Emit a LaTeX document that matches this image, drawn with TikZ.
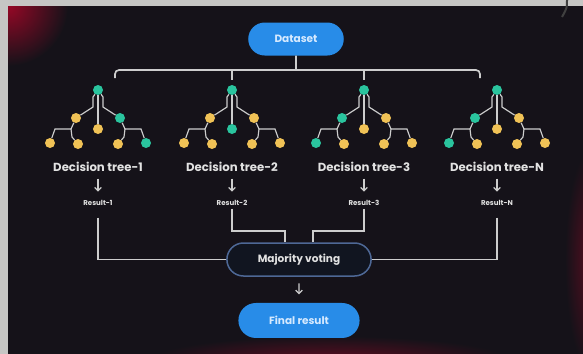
\documentclass[tikz,border=0pt]{standalone}
\usepackage{fontspec}
\setmainfont{Poppins}
\usepackage{tikz}
\usetikzlibrary{shapes.misc, arrows.meta, positioning, calc}
\definecolor{cStone}{RGB}{198,198,196}
\definecolor{cPanel}{RGB}{21,18,25}
\definecolor{cGlow}{RGB}{150,8,38}
\definecolor{cBlue}{RGB}{40,140,232}
\definecolor{cPillText}{RGB}{214,234,255}
\definecolor{cVoteFill}{RGB}{17,21,32}
\definecolor{cVoteEdge}{RGB}{78,104,150}
\definecolor{cLink}{RGB}{205,205,205}
\definecolor{cLabel}{RGB}{226,226,226}
\definecolor{cNodeG}{RGB}{42,196,158}
\definecolor{cNodeY}{RGB}{240,194,86}
\tikzset{
	pill/.style    ={rounded rectangle, minimum height=9.9mm, align=center, fill=cBlue, text=cPillText, font=\bfseries\fontsize{9}{11}\selectfont},
	voter/.style   ={pill, fill=cVoteFill, draw=cVoteEdge, line width=0.45mm, text=cLabel},
	treelbl/.style ={inner sep=0pt, text=cLabel, font=\bfseries\fontsize{10}{12}\selectfont},
	reslbl/.style  ={inner sep=0pt, text=cLabel, font=\bfseries\fontsize{6}{7}\selectfont},
	dot/.style     ={circle, minimum size=3mm, inner sep=0pt},
	trace/.style   ={cLink, line width=0.35mm},
	link/.style    ={cLink, line width=0.5mm},
	arr/.style     ={-{Straight Barb[length=1mm, width=2mm]}, cLink, line width=0.4mm, shorten <=2mm, shorten >=2.5mm},
	glow/.style    ={inner color=#1, outer color=cPanel},
	% small decision tree, node colours given as G/Y letters (root, level 2, leaves)
	pics/dtree/.style args={#1#2#3#4#5#6#7#8}{code={
		\node[dot, fill=cNode#1] (-r) at (0,0) {};
		\node[dot, fill=cNode#2] (-a) at (-22,28) {};
		\node[dot, fill=cNode#3] (-b) at (0,39) {};
		\node[dot, fill=cNode#4] (-c) at (22,28) {};
		\node[dot, fill=cNode#5] (-d) at (-48,53) {};
		\node[dot, fill=cNode#6] (-e) at (-20,54) {};
		\node[dot, fill=cNode#7] (-f) at (20,54) {};
		\node[dot, fill=cNode#8] (-g) at (48,53) {};
		\draw[trace] (-r) -- (-b);
		\draw[trace] (-r) -- (-5,7) -- (-5,17) -- (-a);
		\draw[trace] (-r) -- (5,7) -- (5,17) -- (-c);
		\draw[trace] (-a) -- (-27,39) -- (-43,39) -- (-d);
		\draw[trace] (-27,39) -- (-26,47) -- (-e);
		\draw[trace] (-c) -- (27,39) -- (43,39) -- (-g);
		\draw[trace] (27,39) -- (26,47) -- (-f);
	}},
}

\begin{document}
\begin{tikzpicture}[x=0.3mm, y=-0.3mm]
	\useasboundingbox (0,0) rectangle (583,353);
	% dark panel with the stone edge along top and left
	\fill[cPanel] (-5,-5) rectangle (590,360);
	\begin{scope}
		\clip (8,6) rectangle (590,360);
		\shade[glow=cGlow] (8,6) circle[radius=60];
		\shade[glow=cGlow!55!cPanel] (330,360) ellipse[x radius=180, y radius=24];
		\shade[glow=cGlow!50!cPanel] (590,260) ellipse[x radius=25, y radius=110];
	\end{scope}
	\fill[cStone] (-5,-5) rectangle (590,6);
	\fill[cStone] (-5,-5) rectangle (8,360);
	\draw[black!75, line width=0.6mm] (567,0) .. controls (567,8) .. (562,17);

	\node[pill, minimum width=31mm] (data) at (296,39) {Dataset};
	\coordinate (bus) at (296,70);

	\pic (t1) at (98,90) {dtree=GYYGYYYG};
	\pic (t2) at (232,90) {dtree=GYGYYYYY};
	\pic (t3) at (364,90) {dtree=GGYYGYYY};
	\pic (tN) at (497,90) {dtree=GGYYGYYY};

	\node[treelbl] (l1) at (98,167) {Decision tree-1};
	\node[treelbl] (l2) at (232,167) {Decision tree-2};
	\node[treelbl] (l3) at (364,167) {Decision tree-3};
	\node[treelbl] (lN) at (497,167) {Decision tree-N};
	\node[reslbl, below=8.4mm of l1] (r1) {Result-1};
	\node[reslbl, below=8.4mm of l2] (r2) {Result-2};
	\node[reslbl, below=8.4mm of l3] (r3) {Result-3};
	\node[reslbl, below=8.4mm of lN] (rN) {Result-N};

	\node[voter, minimum width=45.6mm] (vote) at (299,259.5) {Majority voting};
	\node[pill, minimum width=38.7mm, minimum height=10.5mm, below=7.8mm of vote] (final) {Final result};

	% dataset split to the trees
	\draw[link] (data) -- (bus);
	\draw[link, rounded corners=1.2mm] ($(t1-r)+(17,-12)$) |- (bus) -| ($(tN-r)+(-17,-12)$);
	\draw[link] (bus -| t2-r) -- ($(t2-r)+(0,-10)$);
	\draw[link] (bus -| t3-r) -- ($(t3-r)+(0,-10)$);

	\draw[arr] (l1) -- (r1);
	\draw[arr] (l2) -- (r2);
	\draw[arr] (l3) -- (r3);
	\draw[arr] (lN) -- (rN);

	% results into the vote
	\draw[link] (r1.south) ++(0,12) |- (vote.west);
	\draw[link] (rN.south) ++(0,12) |- (vote.east);
	\draw[link] (r2.south) ++(0,3) |- ($(vote.north)+(-14,-11)$) -- ($(vote.north)+(-14,0)$);
	\draw[link] (r3.south) ++(0,3) |- ($(vote.north)+(14,-11)$) -- ($(vote.north)+(14,0)$);
	\draw[arr] (vote) -- (final);
\end{tikzpicture}
\end{document}
